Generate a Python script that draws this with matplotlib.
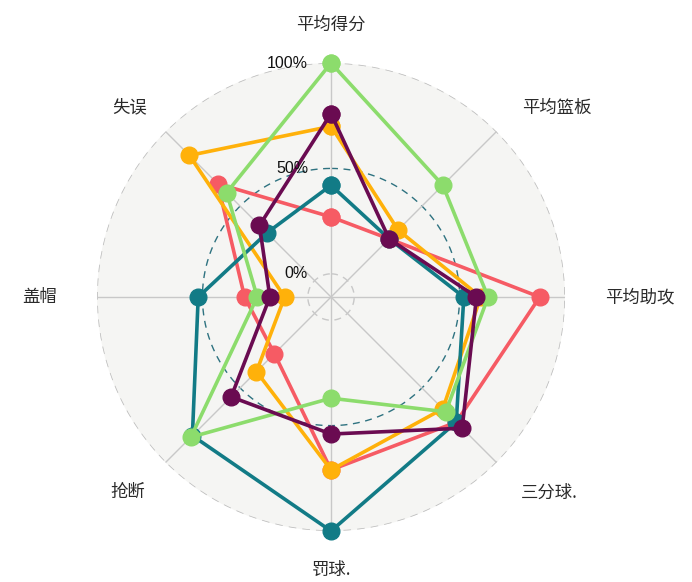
import matplotlib.pyplot as plt
import matplotlib.transforms as mtransforms
import numpy as np

plt.rcParams['font.family'] = ['Noto Sans CJK SC', 'DejaVu Sans']

categories = ['平均得分', '平均篮板', '平均助攻', '三分球.', '罚球.', '抢断', '盖帽', '失误']

red = [0.27, 0.28, 0.88, 0.73, 0.71, 0.27, 0.30, 0.65]
orange = [0.70, 0.34, 0.60, 0.64, 0.71, 0.39, 0.11, 0.84]
teal = [0.42, 0.28, 0.52, 0.73, 1.00, 0.82, 0.52, 0.32]
green = [1.00, 0.64, 0.635, 0.66, 0.37, 0.83, 0.24, 0.59]
purple = [0.76, 0.28, 0.58, 0.77, 0.54, 0.56, 0.18, 0.37]

series = [
    (red, '#f65b64'),
    (orange, '#ffb10a'),
    (teal, '#127b86'),
    (green, '#8cdc6c'),
    (purple, '#6a0b51'),
]

r_ticks = [0.0, 0.5, 1.0]
r_tick_labels = ['0%', '50%', '100%']
r_min = -0.11

fig = plt.figure(figsize=(6.92, 5.82), dpi=100)
ax = fig.add_axes([0.1402, 0.0876, 0.6763, 0.8041], projection='polar')
ax.set_theta_zero_location('N')
ax.set_theta_direction(-1)
ax.set_facecolor('#f5f5f3')
ax.set_ylim(r_min, 1.0)
ax.spines['polar'].set_visible(False)

n = len(categories)
angles = np.linspace(0, 2 * np.pi, n, endpoint=False)

# grid
ax.set_xticks(angles)
ax.set_xticklabels([])
ax.set_yticks([])
ax.xaxis.grid(True, color='#c8c8c8', linewidth=1, linestyle='-')
ax.yaxis.grid(False)
theta_full = np.linspace(0, 2 * np.pi, 361)
ax.plot(theta_full, np.full_like(theta_full, 1.0), color='#bdbdbd', lw=1.1, ls=(0, (5, 4)), zorder=1)
ax.plot(theta_full, np.full_like(theta_full, 0.5), color='#2e7280', lw=1.0, ls=(0, (5, 4)), zorder=1)
ax.plot(theta_full, np.full_like(theta_full, 0.0), color='#c8c8c8', lw=1.0, ls=(0, (5, 4)), zorder=1)

for vals, col in series:
    th = np.append(angles, angles[0])
    rv = np.append(vals, vals[0])
    ax.plot(th, rv, color=col, lw=2.6, marker='o', markersize=12, zorder=3, clip_on=False)

# radial labels
off = mtransforms.offset_copy(ax.transData, fig=fig, x=-23, y=0, units='dots')
for rv, lab in zip(r_ticks, r_tick_labels):
    ax.text(0, rv, lab, transform=off, ha='right', va='center', fontsize=11.5,
            color='#111111', zorder=5, family=['Liberation Sans', 'DejaVu Sans'])

# category labels
for ang, lab in zip(angles, categories):
    s, c = np.sin(ang), np.cos(ang)
    ha = 'center' if abs(s) < 0.1 else ('left' if s > 0 else 'right')
    va = 'center' if abs(c) < 0.1 else ('bottom' if c > 0 else 'top')
    r_lab = 1.19 if abs(c) < 0.1 else 1.14
    dx, dy = 0, 0
    if abs(s) > 0.1 and c > 0.1:
        dy = -6
        dx = 5 if s > 0 else 2
    elif abs(s) > 0.1 and c < -0.1:
        dx = 4 if s > 0 else 0
    tr = mtransforms.offset_copy(ax.transData, fig=fig, x=dx, y=dy, units='dots')
    ax.text(ang, r_lab, lab, transform=tr, ha=ha, va=va, fontsize=12.5, color='#2a2a2a')

fig.savefig('out.png', dpi=100)
